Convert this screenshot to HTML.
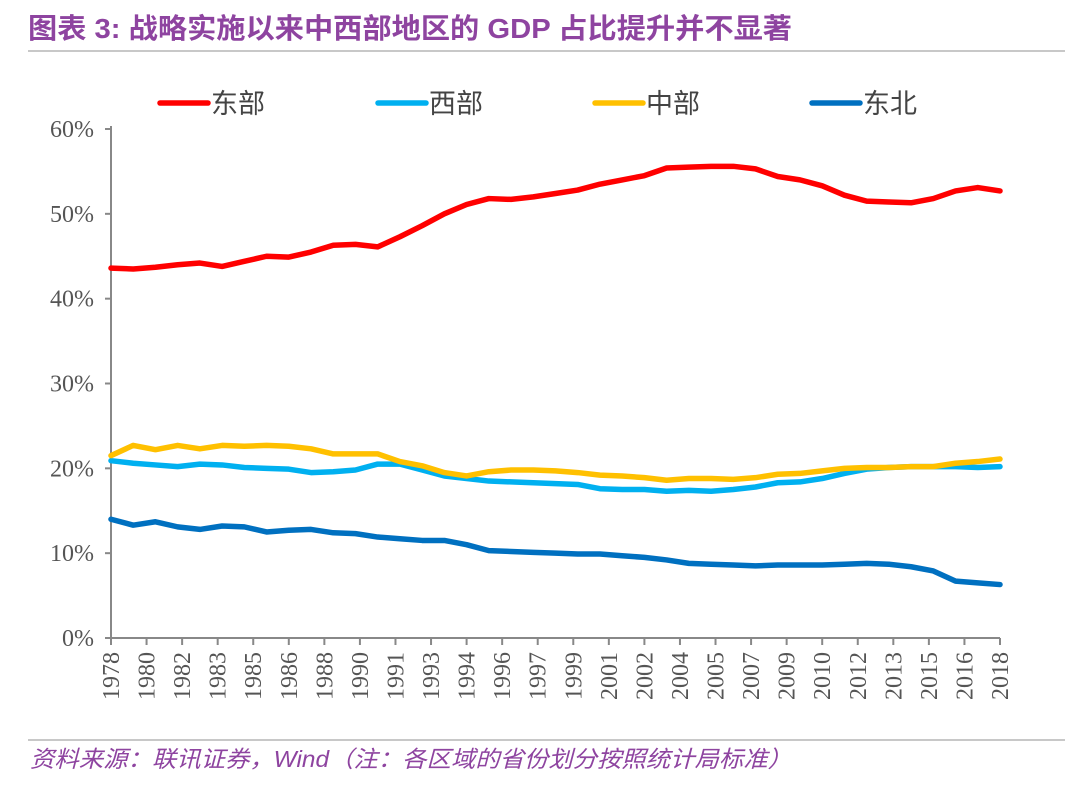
<!DOCTYPE html>
<html><head><meta charset="utf-8">
<style>
body{margin:0;width:1080px;height:794px;background:#fff;overflow:hidden;font-family:"Liberation Sans","Noto Sans CJK SC",sans-serif}
</style></head>
<body>
<svg width="1080" height="794" id="chart">
<text x="28" y="38" font-size="28" font-weight="bold" fill="#8E44A0" textLength="764" lengthAdjust="spacingAndGlyphs" font-family="Liberation Sans, Noto Sans CJK SC, sans-serif">图表 3: 战略实施以来中西部地区的 GDP 占比提升并不显著</text>
<line x1="28" y1="51" x2="1065" y2="51" stroke="#c8c8c8" stroke-width="2"/>
<line x1="28" y1="740" x2="1065" y2="740" stroke="#c8c8c8" stroke-width="2"/>
<text x="30" y="767" font-size="23" font-style="italic" fill="#8E44A0" textLength="762" lengthAdjust="spacingAndGlyphs" font-family="Liberation Sans, Noto Sans CJK SC, sans-serif">资料来源：联讯证券，Wind（注：各区域的省份划分按照统计局标准）</text>
<g id="plot"></g>
</svg>
<script>
const years=[];for(let y=1978;y<=2018;y++)years.push(y);
const xLabels=["1978","1980","1982","1983","1985","1986","1988","1990","1991","1993","1994","1996","1997","1999","2001","2002","2004","2005","2007","2009","2010","2012","2013","2015","2016","2018"];
const yTicks=[0,10,20,30,40,50,60];
const east=[43.6,43.5,43.7,44.0,44.2,43.8,44.4,45.0,44.9,45.5,46.3,46.4,46.1,47.3,48.6,50.0,51.1,51.8,51.7,52.0,52.4,52.8,53.5,54.0,54.5,55.4,55.5,55.6,55.6,55.3,54.4,54.0,53.3,52.2,51.5,51.4,51.3,51.8,52.7,53.1,52.7];
const west=[20.9,20.6,20.4,20.2,20.5,20.4,20.1,20.0,19.9,19.5,19.6,19.8,20.5,20.5,19.8,19.1,18.8,18.5,18.4,18.3,18.2,18.1,17.6,17.5,17.5,17.3,17.4,17.3,17.5,17.8,18.3,18.4,18.8,19.4,19.9,20.1,20.2,20.2,20.2,20.1,20.2];
const central=[21.5,22.7,22.2,22.7,22.3,22.7,22.6,22.7,22.6,22.3,21.7,21.7,21.7,20.8,20.3,19.5,19.1,19.6,19.8,19.8,19.7,19.5,19.2,19.1,18.9,18.6,18.8,18.8,18.7,18.9,19.3,19.4,19.7,20.0,20.1,20.1,20.2,20.2,20.6,20.8,21.1];
const northeast=[14.0,13.3,13.7,13.1,12.8,13.2,13.1,12.5,12.7,12.8,12.4,12.3,11.9,11.7,11.5,11.5,11.0,10.3,10.2,10.1,10.0,9.9,9.9,9.7,9.5,9.2,8.8,8.7,8.6,8.5,8.6,8.6,8.6,8.7,8.8,8.7,8.4,7.9,6.7,6.5,6.3];
const seriesNames=["东部","西部","中部","东北"];
const NS="http://www.w3.org/2000/svg";
const g=document.getElementById('plot');
const X0=111,X1=1000,Y0=638,Y1=129;
const xs=i=>X0+(X1-X0)*i/(years.length-1);
const ys=v=>Y0-(Y0-Y1)*v/60;
function mk(t,a){const e=document.createElementNS(NS,t);for(const k in a)e.setAttribute(k,a[k]);g.appendChild(e);return e;}
let e=mk('line',{x1:X0,y1:Y1-3,x2:X0,y2:Y0,stroke:'#888','stroke-width':2});


e=mk('line',{x1:X0,y1:Y0,x2:X1,y2:Y0,stroke:'#888','stroke-width':2});


yTicks.forEach(v=>{
  const t=mk('line',{x1:X0-6,y1:ys(v),x2:X0,y2:ys(v),stroke:'#888','stroke-width':2});
  
  
  const l=mk('text',{x:X0-17,y:ys(v)+8,'text-anchor':'end','font-size':24,fill:'#555','font-family':'Liberation Serif, serif'});
  l.textContent=v+'%';
  
  
});
xLabels.forEach((lab,i)=>{
  const x=X0+(X1-X0)*i/(xLabels.length-1);
  const t=mk('line',{x1:x,y1:Y0,x2:x,y2:Y0+7,stroke:'#888','stroke-width':2});
  
  
  const l=mk('text',{x:0,y:0,'text-anchor':'end','font-size':24,fill:'#555','font-family':'Liberation Serif, serif',transform:`translate(${x+8},${Y0+14}) rotate(-90)`});
  l.textContent=lab;
  
  
});
const data=[east,west,central,northeast];
const colors=['#FF0000','#00B0F0','#FFC000','#0070C0'];
const lnames=['line-east','line-west','line-central','line-northeast'];
const legX=[160,378,595,812];
data.forEach((d,k)=>{
  const p=mk('polyline',{points:d.map((v,i)=>xs(i)+','+ys(v)).join(' '),fill:'none',stroke:colors[k],'stroke-width':5.5,'stroke-linejoin':'round','stroke-linecap':'round'});
  
  
  const ll=mk('line',{x1:legX[k],y1:103,x2:legX[k]+48,y2:103,stroke:colors[k],'stroke-width':5.5,'stroke-linecap':'round'});
  
  
  const lt=mk('text',{x:legX[k]+51,y:113,'font-size':27,fill:'#444','font-family':'Liberation Sans, Noto Sans CJK SC, sans-serif'});
  lt.textContent=seriesNames[k];
  
  
});
</script>
</body></html>
